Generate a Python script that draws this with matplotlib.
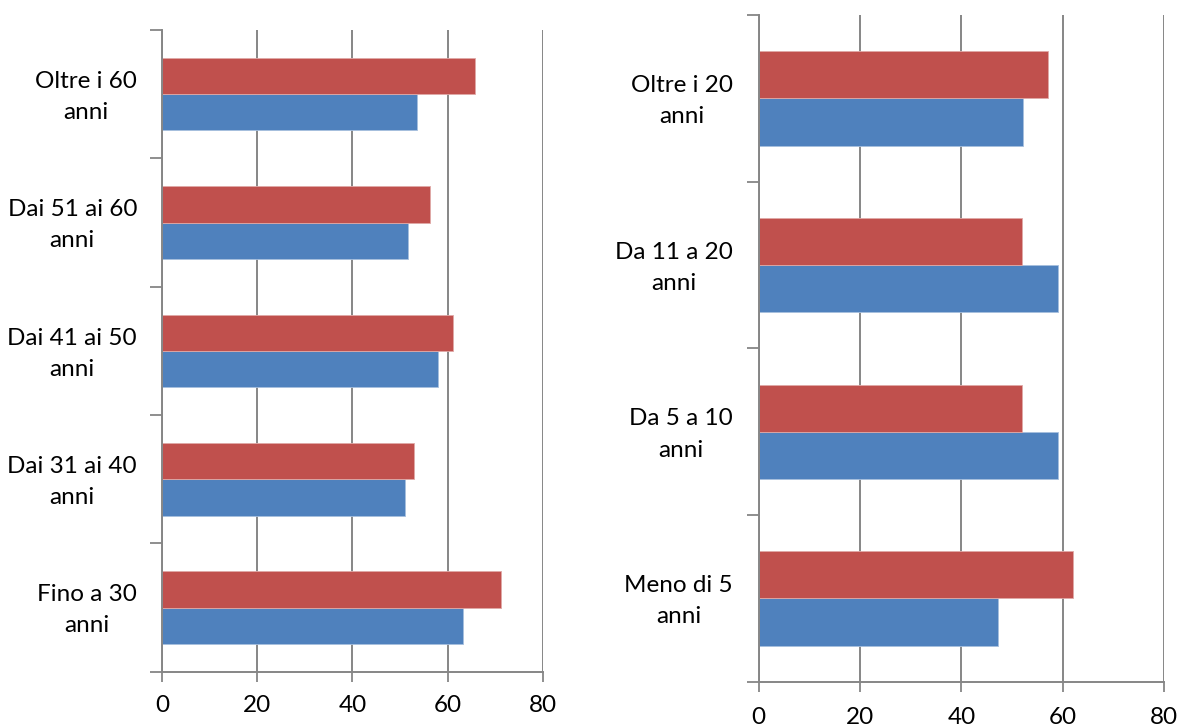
import matplotlib
matplotlib.use("Agg")
import matplotlib.pyplot as plt
import numpy as np

# Age groups (bottom to top)
age_labels = ["Fino a 30\nanni", "Dai 31 ai 40\nanni", "Dai 41 ai 50\nanni",
              "Dai 51 ai 60\nanni", "Oltre i 60\nanni"]
age_blue = [63.2, 51.0, 58.1, 51.7, 53.5]
age_red = [71.2, 52.9, 61.1, 56.4, 65.7]

# Years of service (bottom to top)
years_labels = ["Meno di 5\nanni", "Da 5 a 10\nanni", "Da 11 a 20\nanni", "Oltre i 20\nanni"]
years_blue = [47.2, 59.1, 59.1, 52.2]
years_red = [62.0, 52.0, 52.0, 57.2]

x_ticks = [0, 20, 40, 60, 80]

BLUE = "#4F81BD"
RED = "#C0504D"
GRID = "#868686"
FONT = "Lato"
FS = 17.5

W, H = 1181, 726
fig = plt.figure(figsize=(W / 100, H / 100), dpi=100)


def panel(box, labels, blue, red, label_gap, xlab_pad):
    l, t, r, b = box
    ax = fig.add_axes([l / W, 1 - b / H, (r - l) / W, (b - t) / H])
    n = len(labels)
    pos = np.arange(n) + 0.5
    h = 0.283
    ax.barh(pos - h / 2, blue, height=h, color=BLUE, edgecolor="#A7BFDE",
            linewidth=0.6, zorder=3)
    ax.barh(pos + h / 2, red, height=h, color=RED, edgecolor="#E0A9A7",
            linewidth=0.6, zorder=3)
    ax.set_xlim(0, 80)
    ax.set_ylim(0, n)
    ax.set_xticks(x_ticks)
    ax.set_xticklabels([str(v) for v in x_ticks], fontfamily=FONT, fontsize=FS)
    ax.set_yticks(np.arange(n + 1))
    ax.set_yticklabels([])
    # two-line category labels, centred between the boundary ticks
    for y, text in zip(pos, labels):
        ax.annotate(text, xy=(0, y), xycoords=("axes fraction", "data"),
                    xytext=(-label_gap, -2.0), textcoords="offset points",
                    ha="right", va="center", multialignment="center",
                    linespacing=1.6, fontfamily=FONT, fontsize=FS,
                    annotation_clip=False)
    ax.tick_params(axis="y", which="major", length=9, width=1.3, color=GRID)
    ax.tick_params(axis="x", length=7, width=1.3, color=GRID, pad=xlab_pad)
    ax.grid(axis="x", color=GRID, linewidth=1.4, zorder=0)
    for s in ["top", "right"]:
        ax.spines[s].set_visible(False)
    for s in ["left", "bottom"]:
        ax.spines[s].set_color(GRID)
        ax.spines[s].set_linewidth(1.4)
    ax.spines["left"].set_zorder(4)
    return ax


panel((162, 30, 542.7, 671.7), age_labels, age_blue, age_red, 18, 10)
panel((758.7, 15, 1164, 681.7), years_labels, years_blue, years_red, 18.5, 11)

fig.savefig("out.png", dpi=100, facecolor="white")
